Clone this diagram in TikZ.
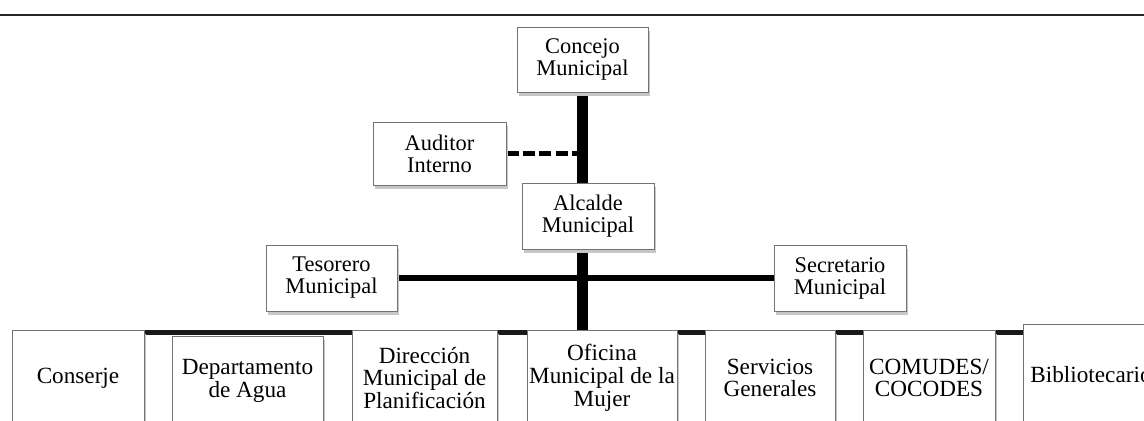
\documentclass[tikz,border=0pt]{standalone}
\usepackage{fontspec}
\setmainfont{Liberation Serif}
\usetikzlibrary{shadows,backgrounds}

\begin{document}
\begin{tikzpicture}[x=0.5pt,y=-0.5pt,
	office/.style={shape=rectangle,draw=black!55,line width=.5pt,fill=white,align=center,inner sep=0pt,
		drop shadow={shadow xshift=1pt,shadow yshift=-2pt,fill=black!22,opacity=1},
		font=\fontsize{11.2}{11}\selectfont},
	unit/.style={office,font=\fontsize{11.6}{11.4}\selectfont},
	trunk/.style={-, line width=5.5pt, black},
	branch/.style={-, line width=3.3pt, black},
	rowline/.style={-, line width=2.7pt, black!90},
	dashline/.style={-, line width=2.5pt, black, dash pattern=on 6pt off 2.2pt}]
	\useasboundingbox (0,0) rectangle (1144,420);
	% page rule
	\draw[line width=1.3pt,black!85] (0,15) -- (1144,15);

	\node[office,minimum width=65.5pt,minimum height=32.5pt] (Concejo) at (582.5,59.5) {Concejo\\Municipal};
	\node[office,minimum width=66.5pt,minimum height=31.5pt] (Auditor) at (439.5,153.5) {Auditor\\Interno};
	\node[office,minimum width=66pt,minimum height=33pt] (Alcalde) at (588,216) {Alcalde\\Municipal};
	\node[office,minimum width=65.5pt,minimum height=33pt] (Tesorero) at (331.5,278) {Tesorero\\Municipal};
	\node[office,minimum width=66pt,minimum height=33pt] (Secretario) at (840,278) {Secretario\\Municipal};

	% bottom row
	\node[unit,minimum width=66pt,minimum height=48pt] (Conserje) at (78,378) {Conserje};
	\node[unit,minimum width=75.5pt,minimum height=45pt] (Agua) at (247.5,381) {Departamento\\de Agua};
	\node[unit,minimum width=72.5pt,minimum height=48pt] (Planif) at (424.5,378) {Dirección\\Municipal de\\Planificación};
	\node[unit,minimum width=75pt,minimum height=48pt] (Mujer) at (602,378) {Oficina\\Municipal de la\\Mujer};
	\node[unit,minimum width=65pt,minimum height=48pt] (Servicios) at (770,378) {Servicios\\Generales};
	\node[unit,minimum width=66pt,minimum height=48pt] (Comudes) at (929,378) {COMUDES/\\COCODES};
	\node[unit,minimum width=68pt,minimum height=51pt] (Biblio) at (1091,375) {Bibliotecario};

	\begin{pgfonlayer}{background}
		\path [trunk] (Concejo.south) edge (Concejo.south |- Mujer.north);
		\path [dashline] (Auditor.east) edge (Auditor.east -| Concejo.south);
		\path [branch] (Tesorero.east) edge (Secretario.west);
		\path [rowline] ([yshift=-1.5pt]Conserje.north) edge ([yshift=-1.5pt]Conserje.north -| Biblio.center);
	\end{pgfonlayer}
\end{tikzpicture}
\end{document}
